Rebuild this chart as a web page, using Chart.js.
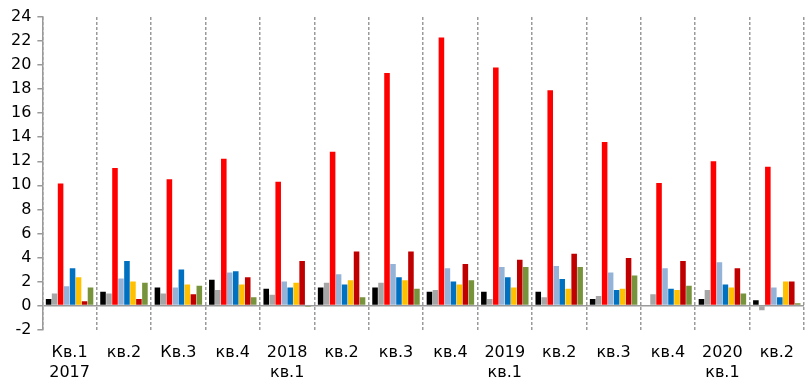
<!DOCTYPE html>
<html>
<head>
<meta charset="utf-8">
<script src="https://cdn.jsdelivr.net/npm/chart.js@4/dist/chart.umd.min.js"></script>
<style>
  html, body { margin: 0; padding: 0; background: #fff; }
  #chart { display: block; }
</style>
</head>
<body>
<canvas id="chart" width="808" height="381"></canvas>
<script>
// квартальные категории
const quarters = [
  ['Кв.1', '2017'], 'кв.2', 'Кв.3', 'кв.4',
  ['2018', 'кв.1'], 'кв.2', 'кв.3', 'кв.4',
  ['2019', 'кв.1'], 'кв.2', 'кв.3', 'кв.4',
  ['2020', 'кв.1'], 'кв.2'
];

// значения рядов, %
const seriesBlack    = [0.55, 1.15, 1.5, 2.15, 1.4, 1.5, 1.5, 1.15, 1.15, 1.15, 0.55, -0.05, 0.55, 0.45];
const seriesGray     = [1.0, 1.0, 1.0, 1.3, 0.9, 1.9, 1.9, 1.3, 0.55, 0.7, 0.8, 0.95, 1.3, -0.4];
const seriesRed      = [10.15, 11.45, 10.5, 12.2, 10.3, 12.8, 19.35, 22.3, 19.8, 17.9, 13.6, 10.2, 12.0, 11.55];
const seriesSky      = [1.6, 2.25, 1.5, 2.75, 2.0, 2.6, 3.45, 3.1, 3.2, 3.3, 2.75, 3.1, 3.6, 1.5];
const seriesBlue     = [3.1, 3.7, 3.0, 2.85, 1.5, 1.75, 2.35, 2.0, 2.35, 2.2, 1.3, 1.4, 1.75, 0.7];
const seriesYellow   = [2.35, 2.0, 1.75, 1.75, 1.9, 2.1, 2.1, 1.75, 1.5, 1.4, 1.4, 1.3, 1.5, 2.0];
const seriesDarkRed  = [0.35, 0.55, 0.95, 2.35, 3.7, 4.5, 4.5, 3.45, 3.8, 4.3, 3.95, 3.7, 3.1, 2.0];
const seriesGreen    = [1.5, 1.9, 1.65, 0.7, -0.1, 0.7, 1.4, 2.1, 3.2, 3.2, 2.5, 1.65, 1.0, 0.2];

const yTicks = [-2, 0, 2, 4, 6, 8, 10, 12, 14, 16, 18, 20, 22, 24];

const AXIS_GRAY = '#9a9a9a';
const FONT = { family: 'DejaVu Sans, Verdana, sans-serif', size: 16 };

const mk = (label, data, color) => ({
  label,
  data,
  backgroundColor: color,
  borderWidth: 0,
  barPercentage: 0.93,
  categoryPercentage: 0.88,
});

new Chart(document.getElementById('chart'), {
  type: 'bar',
  data: {
    labels: quarters,
    datasets: [
      mk('Ряд 1', seriesBlack, '#000000'),
      mk('Ряд 2', seriesGray, '#a6a6a6'),
      mk('Ряд 3', seriesRed, '#ff0000'),
      mk('Ряд 4', seriesSky, '#95b3d7'),
      mk('Ряд 5', seriesBlue, '#0070c0'),
      mk('Ряд 6', seriesYellow, '#ffc000'),
      mk('Ряд 7', seriesDarkRed, '#c00000'),
      mk('Ряд 8', seriesGreen, '#77933c'),
    ],
  },
  options: {
    responsive: false,
    animation: false,
    devicePixelRatio: 1,
    layout: { padding: { top: 17, left: 5, right: 0, bottom: -15 } },
    plugins: {
      legend: { display: false },
      tooltip: { enabled: false },
    },
    scales: {
      x: {
        offset: true,
        grid: {
          offset: true,
          color: AXIS_GRAY,
          lineWidth: 1.5,
          borderDash: [3, 2],
          drawTicks: false,
        },
        border: { display: false, dash: [3, 2] },
        ticks: {
          color: '#000',
          font: FONT,
          padding: 14,
          maxRotation: 0,
          autoSkip: false,
        },
      },
      y: {
        min: yTicks[0],
        max: yTicks[yTicks.length - 1],
        afterBuildTicks: (scale) => {
          scale.ticks = yTicks.map((v) => ({ value: v }));
        },
        grid: {
          // горизонтальная линия только на нуле
          color: (c) => (c.tick && c.tick.value === 0 ? AXIS_GRAY : 'rgba(0,0,0,0)'),
          lineWidth: 1.5,
          drawTicks: true,
          tickLength: 5,
          tickColor: AXIS_GRAY,
        },
        border: { display: true, color: AXIS_GRAY, width: 1.5 },
        ticks: {
          color: '#000',
          font: FONT,
          padding: 6,
        },
      },
    },
  },
});
</script>
</body>
</html>
